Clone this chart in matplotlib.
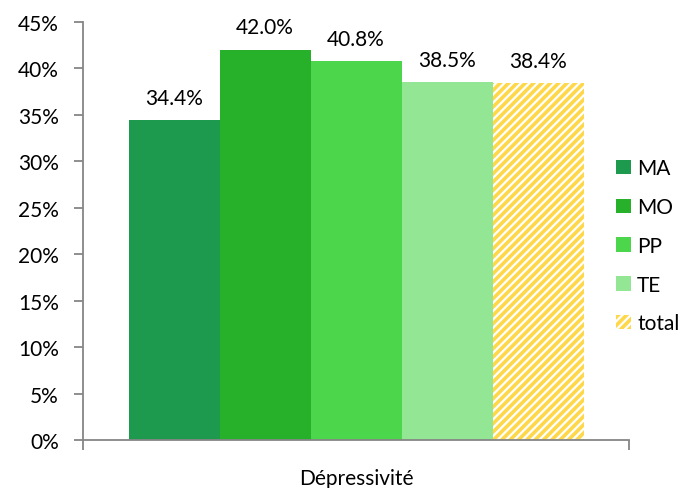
import matplotlib
matplotlib.use("Agg")
import matplotlib.pyplot as plt
from matplotlib.ticker import PercentFormatter, FixedLocator

plt.rcParams['font.family'] = ['Lato', 'DejaVu Sans']
plt.rcParams['hatch.linewidth'] = 2.6

category = "Dépressivité"
series = ["MA", "MO", "PP", "TE", "total"]
values = [34.4, 42.0, 40.8, 38.5, 38.4]
colors = ["#1e9a4e", "#27b12a", "#4cd64c", "#93e693", "#ffd84a"]

FS = 15

fig = plt.figure(figsize=(6.84, 4.89), dpi=100)
ax = fig.add_axes([83/684, 1 - 441/489, (629-83)/684, (441-23)/489])

n = len(series)
for i, (s, v, c) in enumerate(zip(series, values, colors)):
    x = i - (n - 1) / 2
    if s == "total":
        ax.bar(x, v / 100, width=1.0, facecolor="white", edgecolor=c,
               hatch="////", linewidth=0, label=s)
    else:
        ax.bar(x, v / 100, width=1.0, color=c, linewidth=0, label=s)
    ax.annotate(f"{v:.1f}%", (x, v / 100), xytext=(0, 9), textcoords="offset points",
                ha="center", va="bottom", fontsize=FS, color="#000000")

ax.set_xlim(-3, 3)
ax.set_ylim(0, 0.45)
ax.yaxis.set_major_locator(FixedLocator([i * 0.05 for i in range(10)]))
ax.yaxis.set_major_formatter(PercentFormatter(1.0, decimals=0))
ax.set_xticks([0])
ax.set_xticklabels([category])
ax.set_xticks([-3, 3], minor=True)
ax.tick_params(axis='x', which='major', length=0, pad=20, labelsize=FS)
ax.tick_params(axis='x', which='minor', length=7, width=1.3, color="#868686", direction='out')
ax.tick_params(axis='y', length=6.5, width=1.3, color="#868686", labelsize=FS, pad=11)
for side in ["top", "right"]:
    ax.spines[side].set_visible(False)
for side in ["left", "bottom"]:
    ax.spines[side].set_color("#868686")
    ax.spines[side].set_linewidth(1.3)

fig.legend(loc="upper left", bbox_to_anchor=(608/684, 1 - 151/489), frameon=False,
           fontsize=FS, handlelength=0.7, handleheight=0.7, handletextpad=0.3,
           labelspacing=0.9, borderaxespad=0)

fig.savefig("out.png", dpi=100)
